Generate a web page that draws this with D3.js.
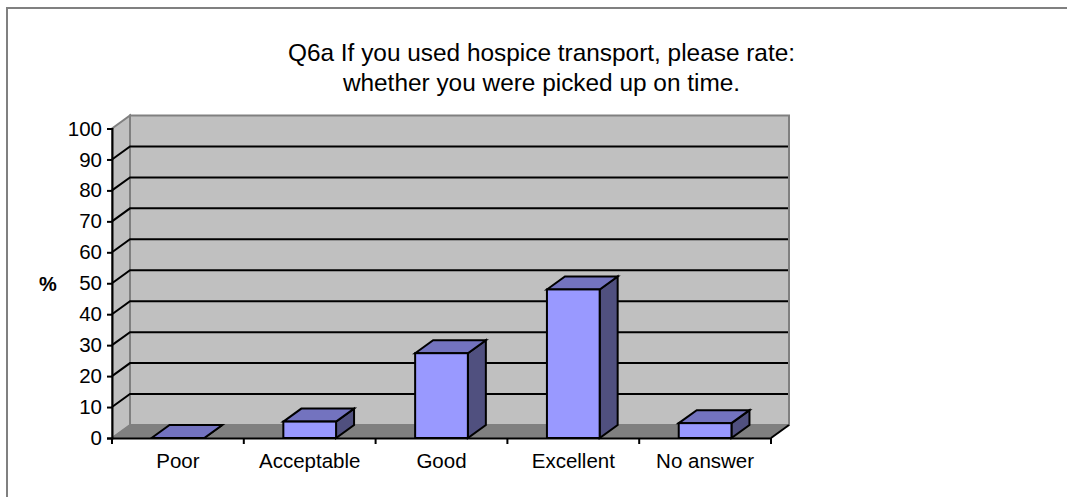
<!DOCTYPE html>
<html>
<head>
<meta charset="utf-8">
<script src="https://cdn.jsdelivr.net/npm/d3@7"></script>
<style>
html, body { margin: 0; padding: 0; background: #fff; }
svg { display: block; }
text { font-family: "Liberation Sans", Arial, sans-serif; fill: #000; }
</style>
</head>
<body>
<div id="graph"></div>
<script>
// values
const categories = ["Poor", "Acceptable", "Good", "Excellent", "No answer"];
const percents = [0, 5.3, 27.4, 48, 4.8];
const yTicks = d3.range(0, 101, 10);
const titleLines = ["Q6a If you used hospice transport, please rate:", "whether you were picked up on time."];
const yLabel = "%";

const width = 1067;
const height = 497;

// 3d offset between the front plane and the back wall
const depthX = 18;
const depthY = -13;

const x = d3.scaleBand().domain(categories).range([112, 771]).paddingInner(0.6).paddingOuter(0.3);
const xOuter = d3.scaleBand().domain(categories).range([112, 771]);
const y = d3.scaleLinear().domain([0, 100]).range([438, 128.5]);

const svg = d3.select("#graph").append("svg")
    .attr("width", width)
    .attr("height", height)
    .attr("viewBox", "0 0 " + width + " " + height);

// outer frame: only top and left are visible
svg.append("path")
    .attr("d", "M7,497V8H1067")
    .attr("fill", "none")
    .attr("stroke", "#808080")
    .attr("stroke-width", 2);

function poly(points) {
    return "M" + points.map(function (p) { return p[0] + "," + p[1]; }).join("L") + "Z";
}

const x0 = xOuter.range()[0];
const x1 = xOuter.range()[1];
const y0 = y(0);
const y100 = y(100);

// back wall, side wall, floor
svg.append("path")
    .attr("d", poly([[x0 + depthX, y100 + depthY], [x1 + depthX, y100 + depthY], [x1 + depthX, y0 + depthY], [x0 + depthX, y0 + depthY]]))
    .attr("fill", "#c0c0c0")
    .attr("stroke", "#808080")
    .attr("stroke-width", 2);
svg.append("path")
    .attr("d", poly([[x0, y100], [x0 + depthX, y100 + depthY], [x0 + depthX, y0 + depthY], [x0, y0]]))
    .attr("fill", "#c0c0c0")
    .attr("stroke", "#808080")
    .attr("stroke-width", 2);
svg.append("path")
    .attr("d", poly([[x0, y0], [x0 + depthX, y0 + depthY], [x1 + depthX, y0 + depthY], [x1, y0]]))
    .attr("fill", "#808080")
    .attr("stroke", "#808080")
    .attr("stroke-width", 1);

// gridlines wrap from the side wall onto the back wall
svg.append("g").selectAll("path")
    .data(yTicks.filter(function (d) { return d > 0 && d < 100; }))
    .enter().append("path")
    .attr("d", function (d) {
        return "M" + x0 + "," + y(d) + "L" + (x0 + depthX) + "," + (y(d) + depthY) + "H" + (x1 + depthX - 1);
    })
    .attr("fill", "none")
    .attr("stroke", "#000")
    .attr("stroke-width", 2);

// bars
const bars = svg.append("g").selectAll("g")
    .data(categories.map(function (c, i) { return { name: c, value: percents[i] }; }))
    .enter().append("g")
    .attr("stroke", "#000")
    .attr("stroke-width", 2)
    .attr("stroke-linejoin", "miter");

bars.append("path")
    .attr("fill", "#50507f")
    .attr("d", function (d) {
        const r = x(d.name) + x.bandwidth();
        return poly([[r, y(d.value)], [r + depthX, y(d.value) + depthY], [r + depthX, y0 + depthY], [r, y0]]);
    });
bars.append("path")
    .attr("fill", "#7373bf")
    .attr("d", function (d) {
        const l = x(d.name), r = l + x.bandwidth();
        return poly([[l, y(d.value)], [l + depthX, y(d.value) + depthY], [r + depthX, y(d.value) + depthY], [r, y(d.value)]]);
    });
bars.append("rect")
    .attr("fill", "#9999ff")
    .attr("x", function (d) { return x(d.name); })
    .attr("y", function (d) { return y(d.value); })
    .attr("width", x.bandwidth())
    .attr("height", function (d) { return y0 - y(d.value); });

// axes
const yAxis = d3.axisLeft(y).tickValues(yTicks).tickSize(5).tickPadding(5);
const gy = svg.append("g").attr("transform", "translate(" + x0 + ",0)").call(yAxis);
const xAxis = d3.axisBottom(xOuter).tickSize(0).tickPadding(15);
const gx = svg.append("g").attr("transform", "translate(0," + y0 + ")").call(xAxis);

// x ticks sit between the categories
gx.selectAll(".edge")
    .data(d3.range(categories.length + 1))
    .enter().append("line")
    .attr("class", "edge")
    .attr("x1", function (i) { return x0 + i * xOuter.step(); })
    .attr("x2", function (i) { return x0 + i * xOuter.step(); })
    .attr("y1", 0)
    .attr("y2", 6)
    .attr("stroke", "#000")
    .attr("stroke-width", 2);

// end of the floor edge
svg.append("line")
    .attr("x1", x1).attr("y1", y0)
    .attr("x2", x1 + depthX).attr("y2", y0 + depthY)
    .attr("stroke", "#000")
    .attr("stroke-width", 2);

[gx, gy].forEach(function (g) {
    g.attr("font-family", null).attr("font-size", null);
    g.selectAll("text").style("font-size", "20.5px").style("fill", "#000");
    g.selectAll(".domain").attr("stroke", "#000").attr("stroke-width", 2);
    g.selectAll(".tick line").attr("stroke", "#000").attr("stroke-width", 2);
});

// titles
svg.append("g").selectAll("text")
    .data(titleLines)
    .enter().append("text")
    .attr("x", 541.5)
    .attr("y", function (d, i) { return 60.5 + i * 30; })
    .attr("text-anchor", "middle")
    .style("font-size", "24.4px")
    .text(function (d) { return d; });

svg.append("text")
    .attr("x", 48)
    .attr("y", 291)
    .attr("text-anchor", "middle")
    .style("font-size", "20px")
    .style("font-weight", "bold")
    .text(yLabel);
</script>
</body>
</html>
